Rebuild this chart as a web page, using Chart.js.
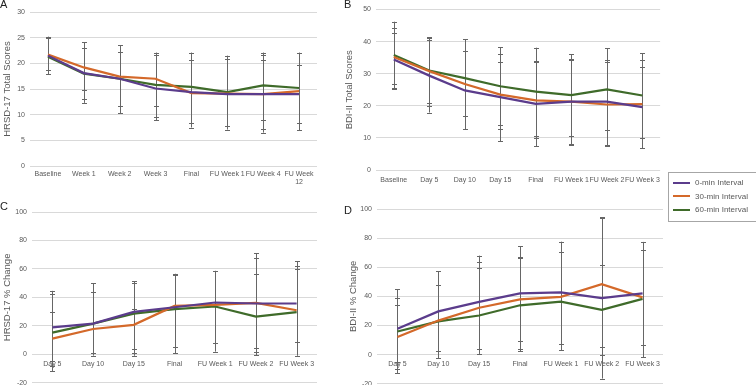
<!DOCTYPE html>
<html>
<head>
<meta charset="utf-8">
<script src="https://cdn.jsdelivr.net/npm/chart.js@4.4.1/dist/chart.umd.min.js"></script>
<style>
  body { margin: 0; width: 756px; height: 385px; overflow: hidden; background: #fff; font-family: 'Liberation Sans', Arial, sans-serif; }
  canvas { position: absolute; }
  .tag { position: absolute; font-size: 11px; color: #222; line-height: 1; }
  #legend { position: absolute; left: 668px; top: 172px; width: 90px; height: 50px; border: 1px solid #a6a6a6; box-sizing: border-box; background: #fff; opacity: 0.999; will-change: transform; }
  .item { position: absolute; left: 4px; font-size: 8px; line-height: 9px; color: #595959; white-space: nowrap; }
  .item span { display: inline-block; width: 17px; height: 2px; vertical-align: middle; margin-right: 5px; }
</style>
</head>
<body>
<canvas id="chartA" width="320" height="190" style="left:0;top:0"></canvas>
<canvas id="chartB" width="330" height="190" style="left:336px;top:0"></canvas>
<canvas id="chartC" width="320" height="202" style="left:0;top:190px"></canvas>
<canvas id="chartD" width="330" height="203" style="left:336px;top:190px"></canvas>
<div class="tag" style="left:0;top:-1px">A</div>
<div class="tag" style="left:344px;top:-1px">B</div>
<div class="tag" style="left:0;top:201px">C</div>
<div class="tag" style="left:344px;top:205px">D</div>
<div id="legend"></div>
<script>
// series names and colours
const seriesNames = ['0-min Interval', '30-min Interval', '60-min Interval'];
const seriesColors = ['#5b3c8c', '#d4692a', '#3f6b2a'];

// A: HRSD-17 total scores
const aLabels = ['Baseline', 'Week 1', 'Week 2', 'Week 3', 'Final', 'FU Week 1', 'FU Week 4', ['FU Week', '12']];
const aMin0 = [21.5, 18.1, 17.0, 15.1, 14.4, 14.0, 14.0, 14.0];
const aMin30 = [21.7, 19.2, 17.4, 17.0, 14.2, 14.1, 14.0, 14.6];
const aMin60 = [21.3, 18.0, 17.0, 15.8, 15.4, 14.4, 15.7, 15.2];
const aHi = [[25.2, 24.9], [24.1, 23.0], [23.5, 22.2], [22.1, 21.7], [22.1, 20.7], [21.5, 20.9], [22.1, 21.7, 20.7], [22.1, 19.6]];
const aLo = [[18.7, 17.9], [14.8, 13.0, 12.3], [11.7, 10.3], [11.7, 9.6, 8.9], [8.3, 7.5], [7.8, 7.1], [8.9, 7.3, 6.5], [8.3, 7.0]];

// B: BDI-II total scores
const bLabels = ['Baseline', 'Day 5', 'Day 10', 'Day 15', 'Final', 'FU Week 1', 'FU Week 2', 'FU Week 3'];
const bMin0 = [34.4, 29.4, 24.8, 22.7, 20.6, 21.3, 21.3, 19.6];
const bMin30 = [35.2, 30.8, 26.8, 23.5, 21.7, 21.3, 20.4, 20.5];
const bMin60 = [35.8, 31.0, 28.6, 26.1, 24.4, 23.3, 25.1, 23.2];
const bHi = [[46.2, 44.2, 42.7], [41.4, 41.0, 40.5], [40.8, 37.0], [38.3, 36.2, 33.7], [38.1, 33.9, 33.5], [36.1, 34.6, 34.4], [38.0, 34.4, 33.6], [36.4, 34.3, 32.2]];
const bLo = [[26.8, 25.4, 25.2], [20.8, 19.8, 17.9], [16.7, 12.7], [13.9, 12.7, 9.0], [10.7, 9.9, 7.4], [10.5, 8.2, 7.9], [12.5, 7.7, 7.4], [10.0, 6.7]];

// C: HRSD-17 % change
const cLabels = ['Day 5', 'Day 10', 'Day 15', 'Final', 'FU Week 1', 'FU Week 2', 'FU Week 3'];
const cMin0 = [19.0, 21.6, 29.8, 33.1, 36.4, 35.7, 35.7];
const cMin30 = [11.0, 17.8, 20.7, 34.0, 34.7, 36.2, 31.0];
const cMin60 = [15.3, 21.6, 28.6, 31.7, 33.6, 26.5, 29.6];
const cHi = [[44.6, 42.3, 29.6], [49.8, 44.1], [51.2, 50.3, 31.7], [56.6, 55.4], [58.7, 58.2], [71.1, 67.6, 56.6], [65.3, 62.2, 60.1]];
const cLo = [[-4.9, -8.0, -11.7], [-0.9, 1.0], [4.0, 1.2, -1.0], [5.4, 0.7], [7.7, 1.9], [4.2, 1.4, -0.5], [8.5, -1.0]];

// D: BDI-II % change
const dLabels = ['Day 5', 'Day 10', 'Day 15', 'Final', 'FU Week 1', 'FU Week 2', 'FU Week 3'];
const dMin0 = [17.8, 29.7, 36.2, 42.1, 42.8, 38.8, 42.1];
const dMin30 = [12.1, 23.4, 32.2, 37.9, 39.7, 48.4, 39.3];
const dMin60 = [15.9, 22.9, 26.9, 33.9, 36.4, 30.8, 38.3];
const dHi = [[44.9, 38.8, 33.9], [57.2, 47.9], [68.0, 63.3, 59.8], [74.3, 67.3, 66.1], [77.6, 77.1, 70.8], [94.2, 93.5, 61.4], [77.4, 71.6]];
const dLo = [[-5.1, -9.8, -12.9], [2.6, -2.3], [4.2, 0.5], [9.6, 4.0, 2.3], [7.0, 3.0], [5.4, -0.5, -16.4], [6.5, -1.6]];

const tickFont = { family: "'Liberation Sans', Arial, sans-serif", size: 7 };
const titleFont = { family: "'Liberation Sans', Arial, sans-serif", size: 9.5 };
const grey = '#595959';

// draws the overlapping SD bars (one line per category, caps for each series)
const errorBars = {
  id: 'errorBars',
  beforeDatasetsDraw(chart, args, opts) {
    const { ctx } = chart;
    const x = chart.scales.x, y = chart.scales.y;
    ctx.save();
    ctx.strokeStyle = '#666666';
    ctx.lineWidth = 1;
    opts.hi.forEach((tops, i) => {
      const lows = opts.lo[i];
      const px = Math.round(x.getPixelForValue(i)) + 0.5;
      ctx.beginPath();
      ctx.moveTo(px, y.getPixelForValue(Math.max(...tops)));
      ctx.lineTo(px, y.getPixelForValue(Math.min(...lows)));
      tops.concat(lows).forEach(v => {
        const py = Math.round(y.getPixelForValue(v)) + 0.5;
        ctx.moveTo(px - 2.5, py);
        ctx.lineTo(px + 2.5, py);
      });
      ctx.stroke();
    });
    ctx.restore();
  }
};

function makePanel(id, labels, values, hi, lo, cfg) {
  return new Chart(document.getElementById(id), {
    type: 'line',
    data: {
      labels: labels,
      datasets: values.map((v, i) => ({
        label: seriesNames[i],
        data: v,
        borderColor: seriesColors[i],
        backgroundColor: seriesColors[i],
        borderWidth: 2.2,
        pointRadius: 0,
        tension: 0
      }))
    },
    options: {
      responsive: false,
      animation: false,
      layout: { padding: cfg.padding },
      plugins: {
        legend: { display: false },
        tooltip: { enabled: false },
        errorBars: { hi: hi, lo: lo }
      },
      scales: {
        x: {
          offset: true,
          position: cfg.xPos || 'bottom',
          grid: { display: false, drawTicks: false },
          border: { display: false },
          ticks: { font: tickFont, color: grey, maxRotation: 0, autoSkip: false, padding: cfg.xPad },
          afterFit: cfg.xHeight ? s => { s.height = cfg.xHeight; } : undefined
        },
        y: {
          min: cfg.min, max: cfg.max,
          grid: { color: '#d9d9d9', drawTicks: false },
          border: { display: false },
          ticks: { stepSize: cfg.step, font: tickFont, color: grey, padding: 5 },
          title: { display: true, text: cfg.title, font: titleFont, color: grey, padding: 0 },
          afterFit: s => { s.width = cfg.yWidth; }
        }
      }
    },
    plugins: [errorBars]
  });
}

makePanel('chartA', aLabels, [aMin0, aMin30, aMin60], aHi, aLo, {
  padding: { left: 2, top: 12, right: 3, bottom: 0 }, yWidth: 28, xHeight: 24, xPad: 3.5,
  min: 0, max: 30, step: 5, title: 'HRSD-17 Total Scores'
});
makePanel('chartB', bLabels, [bMin0, bMin30, bMin60], bHi, bLo, {
  padding: { left: 8, top: 9.5, right: 3, bottom: 0 }, yWidth: 32, xHeight: 20, xPad: 6,
  min: 0, max: 50, step: 10, title: 'BDI-II Total Scores'
});
makePanel('chartC', cLabels, [cMin0, cMin30, cMin60], cHi, cLo, {
  padding: { left: 2, top: 22, right: 3, bottom: 4 }, yWidth: 30, xPos: { y: 0 }, xPad: 5.5,
  min: -20, max: 100, step: 20, title: 'HRSD-17 % Change'
});
makePanel('chartD', dLabels, [dMin0, dMin30, dMin60], dHi, dLo, {
  padding: { left: 12, top: 19, right: 3, bottom: 5 }, yWidth: 29, xPos: { y: 0 }, xPad: 5.5,
  min: -20, max: 100, step: 20, title: 'BDI-II % Change'
});

// shared legend box
const legend = document.getElementById('legend');
seriesNames.forEach((name, i) => {
  const row = document.createElement('div');
  row.className = 'item';
  row.style.top = (5 + i * 13.5) + 'px';
  row.innerHTML = '<span style="background:' + seriesColors[i] + '"></span>' + name;
  legend.appendChild(row);
});
</script>
</body>
</html>
